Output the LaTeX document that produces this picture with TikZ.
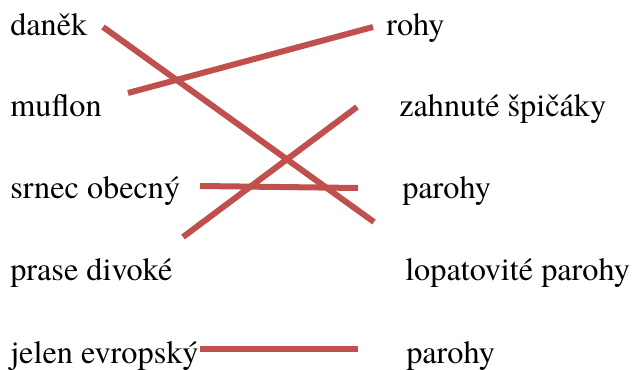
\documentclass[tikz,border=0pt]{standalone}
\usepackage{fontspec}
\setmainfont{texgyretermes}[Extension=.otf, UprightFont=*-regular, BoldFont=*-bold, ItalicFont=*-italic, BoldItalicFont=*-bolditalic]
\definecolor{matchred}{HTML}{C0504D}
\tikzset{
  word/.style={anchor=base west, inner sep=0pt, font=\fontsize{24.2}{29}\selectfont},
  match/.style={draw=matchred, line width=4.5pt}
}
\begin{document}
\begin{tikzpicture}[x=0.75pt, y=-0.75pt]
    \useasboundingbox (0,0) rectangle (635,370);
    \node[word] (danek) at (10,36) {daněk};
    \node[word] (muflon) at (10,117) {muflon};
    \node[word] (srnec) at (10,199) {srnec obecný};
    \node[word] (prase) at (10,281) {prase divoké};
    \node[word] (jelen) at (10,363) {jelen evropský};
    \node[word] (rohy) at (386,36) {rohy};
    \node[word] (spicaky) at (399,117) {zahnuté špičáky};
    \node[word] (parohyA) at (402,199) {parohy};
    \node[word] (lopat) at (405,281) {lopatovité parohy};
    \node[word] (parohyB) at (406,363) {parohy};
    \coordinate (a1) at (103,27);  \coordinate (a2) at (374,222);
    \coordinate (b1) at (128,93);  \coordinate (b2) at (373,27);
    \coordinate (c1) at (183,237); \coordinate (c2) at (357,107);
    \coordinate (d1) at (200,186); \coordinate (d2) at (358,188);
    \coordinate (e1) at (200,349); \coordinate (e2) at (358,349);
    \draw[match] (a1) -- (a2);
    \draw[match] (b1) -- (b2);
    \draw[match] (c1) -- (c2);
    \draw[match] (d1) -- (d2);
    \draw[match] (e1) -- (e2);
\end{tikzpicture}
\end{document}
